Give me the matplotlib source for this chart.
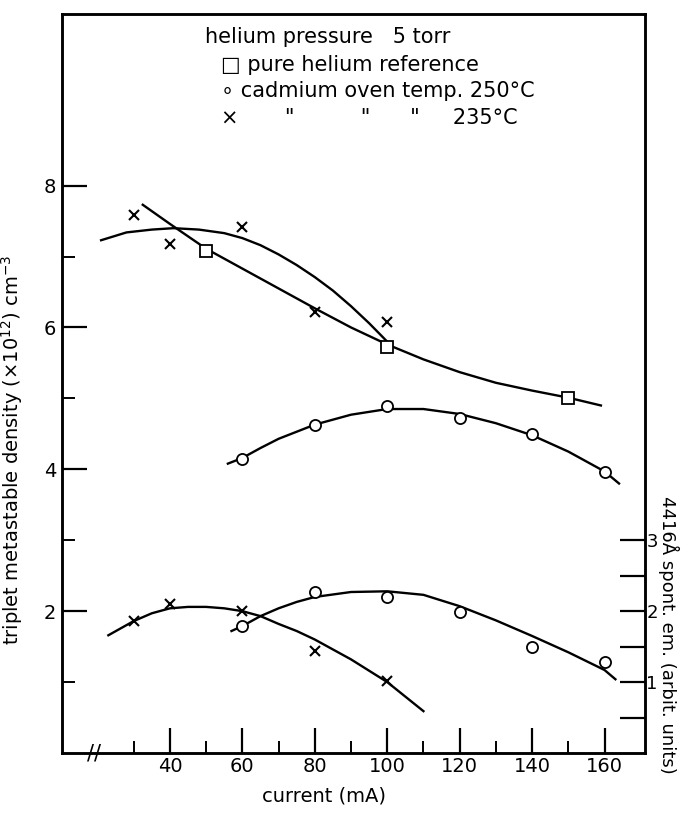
import numpy as np
import matplotlib.pyplot as plt
from matplotlib.ticker import FixedLocator

# --- data (current in mA) ---
# pure helium reference, metastable density
he_x = [50, 100, 150]
he_y = [7.08, 5.73, 5.01]
he_curve_x = [32.5, 40, 50, 60, 70, 80, 90, 100, 110, 120, 130, 140, 150, 159]
he_curve_y = [7.73, 7.46, 7.11, 6.83, 6.55, 6.27, 6.00, 5.76, 5.55, 5.37, 5.22, 5.11, 5.01, 4.90]

# cadmium 235 C, metastable density
cd235_x = [30, 40, 60, 80, 100]
cd235_y = [7.59, 7.17, 7.42, 6.22, 6.07]
cd235_curve_x = [21, 28, 35, 41, 48, 55, 60, 65, 70, 75, 80, 85, 90, 95, 100]
cd235_curve_y = [7.23, 7.34, 7.38, 7.40, 7.38, 7.33, 7.26, 7.16, 7.03, 6.88, 6.71, 6.52, 6.30, 6.06, 5.80]

# cadmium 250 C, metastable density
cd250_x = [60, 80, 100, 120, 140, 160]
cd250_y = [4.15, 4.62, 4.89, 4.72, 4.50, 3.96]
cd250_curve_x = [56, 60, 65, 70, 80, 90, 100, 110, 120, 130, 140, 150, 160, 164]
cd250_curve_y = [4.08, 4.16, 4.30, 4.43, 4.63, 4.77, 4.85, 4.85, 4.78, 4.65, 4.48, 4.25, 3.97, 3.80]

# 4416 A spontaneous emission (right axis)
em235_x = [30, 40, 60, 80, 100]
em235_y = [1.86, 2.10, 2.00, 1.44, 1.01]
em235_curve_x = [23, 30, 35, 40, 45, 50, 55, 60, 65, 70, 75, 80, 90, 100, 110]
em235_curve_y = [1.66, 1.86, 1.97, 2.04, 2.06, 2.06, 2.04, 2.00, 1.93, 1.82, 1.72, 1.60, 1.32, 1.00, 0.59]

em250_x = [60, 80, 100, 120, 140, 160]
em250_y = [1.79, 2.27, 2.20, 1.99, 1.49, 1.28]
em250_curve_x = [57, 60, 65, 70, 75, 80, 90, 100, 110, 120, 130, 140, 150, 160, 163]
em250_curve_y = [1.72, 1.79, 1.93, 2.04, 2.13, 2.20, 2.27, 2.28, 2.23, 2.07, 1.87, 1.65, 1.42, 1.17, 1.04]

x_ticks = [40, 60, 80, 100, 120, 140, 160]
y_ticks = [2, 4, 6, 8]
em_ticks = [1, 2, 3]

plt.rcParams['font.family'] = 'DejaVu Sans'
fig = plt.figure(figsize=(6.82, 8.13), dpi=100)
ax = fig.add_axes([0.0909, 0.0738, 0.855, 0.909])
ax2 = ax.twinx()

lw = 1.7
ax.plot(he_curve_x, he_curve_y, color='black', lw=lw)
ax.plot(cd235_curve_x, cd235_curve_y, color='black', lw=lw)
ax.plot(cd250_curve_x, cd250_curve_y, color='black', lw=lw)
ax.plot(he_x, he_y, ls='none', marker='s', ms=9, mfc='white', mec='black', mew=1.3)
ax.plot(cd235_x, cd235_y, ls='none', marker='x', ms=7, mec='black', mew=1.5)
ax.plot(cd250_x, cd250_y, ls='none', marker='o', ms=8, mfc='white', mec='black', mew=1.3)

ax2.plot(em235_curve_x, em235_curve_y, color='black', lw=lw)
ax2.plot(em250_curve_x, em250_curve_y, color='black', lw=lw)
ax2.plot(em235_x, em235_y, ls='none', marker='x', ms=7, mec='black', mew=1.5)
ax2.plot(em250_x, em250_y, ls='none', marker='o', ms=8, mfc='white', mec='black', mew=1.3)

ax.set_xlim(10.2, 171.2)
ax.set_ylim(0, 10.42)
ax2.set_ylim(0, 10.42)

ax.xaxis.set_major_locator(FixedLocator(x_ticks))
ax.xaxis.set_minor_locator(FixedLocator([30, 50, 70, 90, 110, 130, 150]))
ax.yaxis.set_major_locator(FixedLocator(y_ticks))
ax.yaxis.set_minor_locator(FixedLocator([1, 3, 5, 7]))
ax2.yaxis.set_major_locator(FixedLocator(em_ticks))
ax2.yaxis.set_minor_locator(FixedLocator([0.5, 1.5, 2.5]))

ax.tick_params(which='major', direction='in', length=18, width=1.6, labelsize=14, pad=3)
ax.tick_params(which='minor', direction='in', length=9, width=1.4)
ax.tick_params(axis='y', which='major', pad=4)
ax.tick_params(top=False, right=False)
ax2.tick_params(which='both', direction='in', length=18, width=1.6, labelsize=13, pad=1)

for a in (ax, ax2):
    for s in a.spines.values():
        s.set_linewidth(1.8)

ax.set_xlabel('current (mA)', fontsize=14)
ax.xaxis.set_label_coords(0.45, -0.045)
ax.set_ylabel('triplet metastable density (×10$^{12}$) cm$^{-3}$', fontsize=14)
ax.yaxis.set_label_coords(-0.063, 0.41)
ax2.set_ylabel('4416Å spont. em. (arbit. units)', fontsize=13, rotation=270, va='center')
ax2.yaxis.set_label_coords(1.041, 0.16)

# axis break mark
ax.text(19, 0, '//', fontsize=15, ha='center', va='center', clip_on=False)

# key
ax.text(0.245, 0.969, 'helium pressure   5 torr', transform=ax.transAxes, fontsize=15, va='center')
ax.text(0.272, 0.931, '□ pure helium reference', transform=ax.transAxes, fontsize=15, va='center')
ax.text(0.272, 0.896, '∘ cadmium oven temp. 250°C', transform=ax.transAxes, fontsize=15, va='center')
ax.text(0.272, 0.859, '×       "          "      "     235°C', transform=ax.transAxes, fontsize=15, va='center')

fig.savefig('out.png', dpi=100)
